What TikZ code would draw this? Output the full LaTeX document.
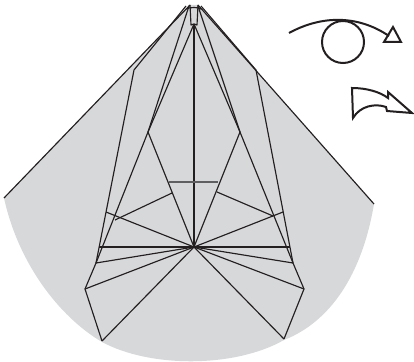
\documentclass[tikz,border=0pt]{standalone}
\usepackage{xcolor}
\usepackage{tikz}
\definecolor{GrisPapel}{RGB}{215,216,218}
\definecolor{NegroPliegue}{RGB}{35,31,32}
\definecolor{GrisPliegue}{RGB}{95,95,98}
\tikzset{pliegue/.style={line width=1.15pt,NegroPliegue,line join=round},
  pliegueclaro/.style={line width=1.15pt,GrisPliegue},
  simbolo/.style={line width=2pt,NegroPliegue,line join=miter}}

\begin{document}
\begin{tikzpicture}[x=1pt,y=-1pt]
  \useasboundingbox (0,0) rectangle (414,361);
  % Papel
  \coordinate (TL) at (190,5);
  \coordinate (TR) at (198,5);
  \coordinate (EL) at (4,198);
  \coordinate (ER) at (374,204);
  \fill[GrisPapel] (TL) -- (EL)
    .. controls (18,262) and (58,316) .. (102,342)
    .. controls (150,368) and (235,368) .. (284,340)
    .. controls (330,322) and (362,275) .. (ER) -- (TR) -- cycle;
  \draw[pliegue] (TL) -- (EL);
  \draw[pliegue] (TR) -- (ER);

  % Vertices
  \coordinate (O) at (194,247);
  \coordinate (P) at (194,24);
  \coordinate (A1) at (134,70);
  \coordinate (A2) at (148,132);
  \coordinate (A3) at (106,212);
  \coordinate (A4) at (96,263);
  \coordinate (A5) at (85,289);
  \coordinate (A6) at (102,341);
  \coordinate (A7) at (172,193);
  \coordinate (A8) at (115,220);
  \coordinate (A9) at (99,247);
  \coordinate (B1) at (256,70);
  \coordinate (B2) at (240,132);
  \coordinate (B3) at (283,212);
  \coordinate (B4) at (293,263);
  \coordinate (B5) at (304,289);
  \coordinate (B6) at (284,339);
  \coordinate (B7) at (217,192);
  \coordinate (B8) at (273,216);
  \coordinate (B9) at (290,247);
  \coordinate (H1) at (169,182);
  \coordinate (H2) at (218,182);

  % Lado izquierdo
  \draw[pliegue] (186,6) -- (A1) -- (A4) -- (A5) -- (A6);
  \draw[pliegue] (189,6) -- (A2) -- (A4);
  \draw[pliegue] (P) -- (A2) -- (O);
  \draw[pliegue] (A7) -- (A8);

  % Lado derecho
  \draw[pliegue] (201,6) -- (B1) -- (B4) -- (B5) -- (B6);
  \draw[pliegue] (198,6) -- (B2) -- (B4);
  \draw[pliegue] (P) -- (B2) -- (O);
  \draw[pliegue] (B7) -- (B8);

  % Radios desde el centro
  \foreach \v in {P,A3,A4,A5,A6,A9,B3,B4,B5,B6,B9}
    \draw[pliegue] (O) -- (\v);
  \draw[pliegueclaro] (H1) -- (H2);

  % Punta
  \draw[pliegue] (TL) -- (191,25) -- (P) -- (197,25) -- (TR);
  \draw[pliegue] (186,9) .. controls (189,7) and (199,7) .. (201,9);

  % Simbolos
  \coordinate (C) at (343,42);
  \coordinate (F0) at (289,33);
  \coordinate (F1) at (389,36);
  \draw[simbolo] (C) circle (21);
  \draw[simbolo] (F0) .. controls (322,15) and (358,15) .. (F1);
  \draw[simbolo] (393,27) -- (384,42) -- (401,42) -- cycle;
  \draw[simbolo] (352,88) .. controls (367,88) and (380,92) .. (388,98)
    -- (388,92) -- (412,113) -- (387,111) -- (386,107)
    .. controls (375,103) and (360,106) .. (353,118) -- cycle;
\end{tikzpicture}
\end{document}
